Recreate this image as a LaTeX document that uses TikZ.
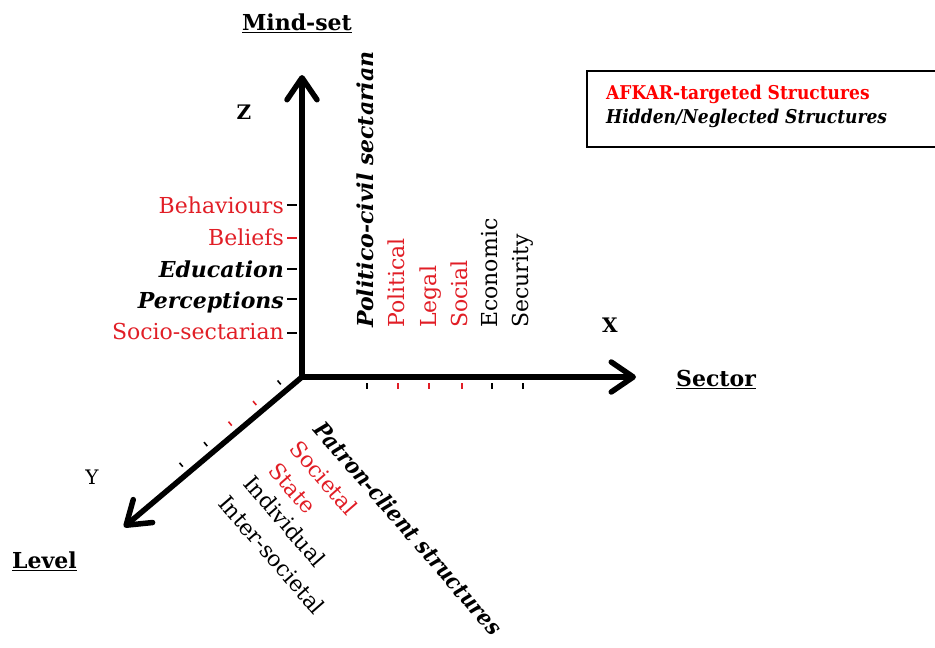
\documentclass[tikz,border=0pt]{standalone}
\usepackage{fontspec}
\setmainfont{DejaVu Serif}
\newfontfamily\condser{DejaVu Serif Condensed}
\usetikzlibrary{arrows.meta}
\definecolor{afred}{RGB}{225,30,38}
\definecolor{legred}{RGB}{255,0,0}
\tikzset{axbarb/.tip={Straight Barb[length=22pt,width=30pt,round]}}
\begin{document}
\begin{tikzpicture}[x=1pt,y=-1pt,
  axisline/.style={line width=5.5pt, line join=miter},
  tk/.style={line width=1.6pt},
  lab/.style={inner sep=0pt, font=\fontsize{22}{26}\selectfont},
  hid/.style={lab, font=\fontsize{22}{26}\selectfont\bfseries\itshape},
  head/.style={inner sep=0pt, font=\fontsize{22}{26}\selectfont\bfseries},
  letter/.style={inner sep=0pt, font=\fontsize{20}{24}\selectfont\bfseries},
  legtxt/.style={inner sep=0pt, font=\fontsize{19}{23}\selectfont\condser\bfseries}
]
\useasboundingbox (0,0) rectangle (935,648);
% axes
\coordinate (O) at (302,377);
\coordinate (Zt) at (302,75);
\coordinate (Xt) at (636,377);
\coordinate (Yt) at (124,527);
\draw[axisline, axbarb-axbarb] (Zt) -- (O) -- (Xt);
\draw[axisline, line cap=round, -axbarb] (O) -- (Yt);
% axis names
\node[head, anchor=base] (mind) at (297,30) {\underline{Mind-set}};
\node[head, anchor=base west] (sector) at (676,386) {\underline{Sector}};
\node[head, anchor=base west] (level) at (12,568) {\underline{Level}};
\node[letter] (zl) at (244,112) {Z};
\node[letter] (xl) at (610,325) {X};
\node[letter, font=\fontsize{20}{24}\selectfont] (yl) at (92,477) {Y};
% Z ticks and labels
\draw[tk] (287,205) -- (297,205);
\draw[tk, afred] (287,238) -- (297,238);
\draw[tk] (287,269) -- (297,269);
\draw[tk] (287,299) -- (297,299);
\draw[tk] (287,333) -- (297,333);
\node[lab, text=afred, anchor=base east] (beh) at (284,213) {Behaviours};
\node[lab, text=afred, anchor=base east] (bel) at (284,245) {Beliefs};
\node[hid, anchor=base east] (edu) at (284,277) {Education};
\node[hid, anchor=base east] (per) at (284,308) {Perceptions};
\node[lab, text=afred, anchor=base east] (soc) at (284,339) {Socio-sectarian};
% X ticks and labels
\draw[tk] (367,383) -- (367,389);
\draw[tk, afred] (398,383) -- (398,389);
\draw[tk, afred] (429,383) -- (429,389);
\draw[tk, afred] (462,383) -- (462,389);
\draw[tk] (492,383) -- (492,389);
\draw[tk] (523,383) -- (523,389);
\node[hid, rotate=90, anchor=base west] (pcs) at (373,328) {Politico-civil sectarian};
\node[lab, text=afred, rotate=90, anchor=base west] (pol) at (404,328) {Political};
\node[lab, text=afred, rotate=90, anchor=base west] (leg) at (436,328) {Legal};
\node[lab, text=afred, rotate=90, anchor=base west] (socx) at (467,328) {Social};
\node[lab, rotate=90, anchor=base west] (eco) at (497,328) {Economic};
\node[lab, rotate=90, anchor=base west] (sec) at (528,328) {Security};
% Y ticks and labels
\draw[tk] (280.8,384.4) -- (277.5,380.5);
\draw[tk, afred] (256.3,405.0) -- (253.0,401.1);
\draw[tk, afred] (231.8,425.6) -- (228.5,421.7);
\draw[tk] (207.3,446.1) -- (204.0,442.2);
\draw[tk] (182.8,466.7) -- (179.5,462.8);
\node[hid, font=\fontsize{22.5}{26}\selectfont\condser\bfseries\itshape, rotate=-49, anchor=base west] (pat) at (312,430) {Patron-client structures};
\node[lab, text=afred, rotate=-49, anchor=base west] (socy) at (288,449) {Societal};
\node[lab, text=afred, rotate=-49, anchor=base west] (sta) at (267,471) {State};
\node[lab, rotate=-49, anchor=base west] (ind) at (242,484) {Individual};
\node[lab, rotate=-49, anchor=base west] (ints) at (217,504) {Inter-societal};
% legend
\draw[line width=1.8pt] (936,71) -- (587,71) -- (587,147) -- (936,147);
\node[legtxt, text=legred, anchor=base west] (leg1) at (606,99) {AFKAR-targeted Structures};
\node[legtxt, font=\fontsize{19}{23}\selectfont\condser\bfseries\itshape, anchor=base west] (leg2) at (606,123) {Hidden/Neglected Structures};
\end{tikzpicture}
\end{document}
